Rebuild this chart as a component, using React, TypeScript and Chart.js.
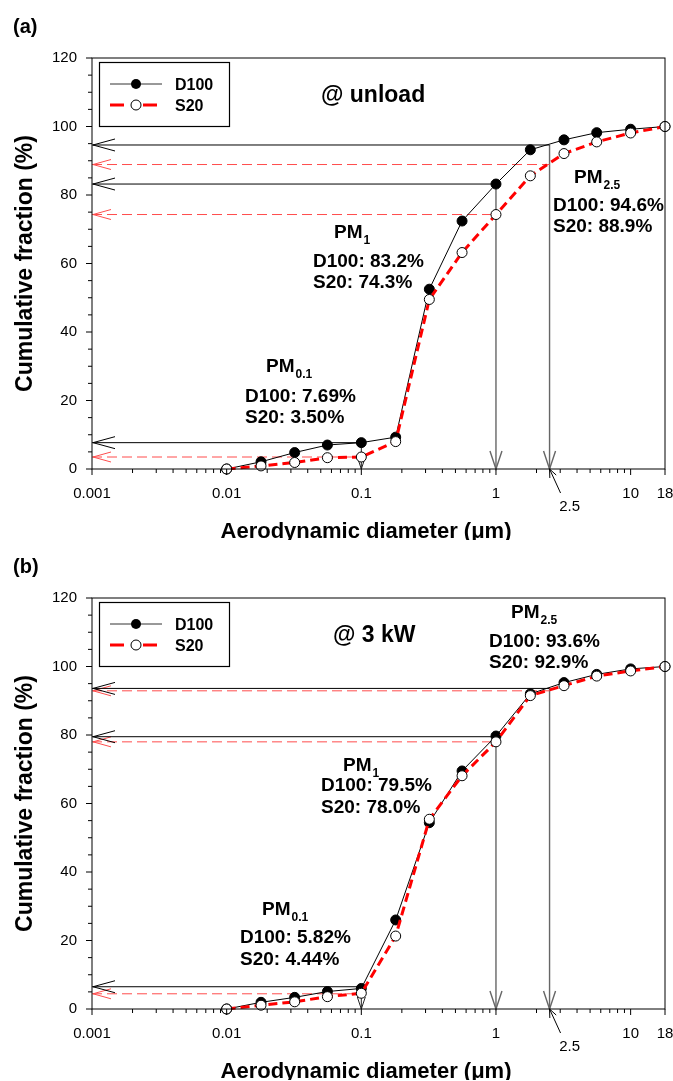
import React, { useEffect, useRef } from 'react';
import { Chart, registerables } from 'chart.js';
Chart.register(...registerables);

// ---------- data ----------
const sizes = [0.01, 0.018, 0.032, 0.056, 0.1, 0.18, 0.32, 0.56, 1.0, 1.8, 3.2, 5.6, 10, 18];
const xTickValues = [0.001, 0.01, 0.1, 1, 10, 18];
const yMin = 0;
const yMax = 120;
const yStep = 20;

const unloadD100 = [0, 2.1, 4.8, 7.0, 7.7, 9.3, 52.5, 72.4, 83.2, 93.2, 96.1, 98.2, 99.2, 100];
const unloadS20 = [0, 0.9, 1.9, 3.3, 3.5, 8.0, 49.5, 63.2, 74.3, 85.6, 92.1, 95.5, 98.1, 100];
const kw3D100 = [0, 1.95, 3.4, 5.1, 6.0, 26.0, 54.4, 69.5, 79.7, 92.0, 95.3, 97.7, 99.3, 100];
const kw3S20 = [0, 1.1, 2.1, 3.6, 4.6, 21.3, 55.4, 68.1, 78.0, 91.5, 94.4, 97.2, 98.7, 100];

// PM cut sizes (µm) and cumulative levels
const pmCuts = [0.1, 1, 2.5];
const pmSubs = ['0.1', '1', '2.5'];
const unloadPmD100 = [7.69, 83.2, 94.6];
const unloadPmS20 = [3.5, 74.3, 88.9];
const kw3PmD100 = [6.5, 79.5, 93.6];
const kw3PmS20 = [4.44, 78.0, 92.9];
const unloadTextD100 = ['7.69%', '83.2%', '94.6%'];
const unloadTextS20 = ['3.50%', '74.3%', '88.9%'];
const kw3TextD100 = ['5.82%', '79.5%', '93.6%'];
const kw3TextS20 = ['4.44%', '78.0%', '92.9%'];

const FONT = '"Liberation Sans", Arial, Helvetica, sans-serif';
const W = 673;
const H = 540;
const AREA_TOP = 58;
const AREA_BOTTOM = 469;

type Panel = {
  tag: string;
  title: string;
  d100: number[];
  s20: number[];
  pmD100: number[];
  pmS20: number[];
  txtD100: string[];
  txtS20: string[];
  titlePos: [number, number];
  // per block: [pmX, lineX, pmBase, l1Base, l2Base] offsets from chart area left/top
  blocks: number[][];
};

const panels: Panel[] = [
  {
    tag: '(a)', title: '@ unload', d100: unloadD100, s20: unloadS20,
    pmD100: unloadPmD100, pmS20: unloadPmS20, txtD100: unloadTextD100, txtS20: unloadTextS20,
    titlePos: [229, 44],
    blocks: [[174, 153, 314, 344, 365], [242, 221, 180, 209, 230], [482, 461, 125, 153, 174]],
  },
  {
    tag: '(b)', title: '@ 3 kW', d100: kw3D100, s20: kw3S20,
    pmD100: kw3PmD100, pmS20: kw3PmS20, txtD100: kw3TextD100, txtS20: kw3TextS20,
    titlePos: [241, 44],
    blocks: [[170, 148, 317, 345, 367], [251, 229, 173, 193, 215], [419, 397, 20, 49, 70]],
  },
];

function seg(ctx: CanvasRenderingContext2D, x1: number, y1: number, x2: number, y2: number) {
  ctx.beginPath();
  ctx.moveTo(x1, y1);
  ctx.lineTo(x2, y2);
  ctx.stroke();
}

function leftArrow(ctx: CanvasRenderingContext2D, x: number, y: number, len: number, half: number) {
  ctx.beginPath();
  ctx.moveTo(x + len, y - half);
  ctx.lineTo(x, y);
  ctx.lineTo(x + len, y + half);
  ctx.stroke();
}

function downArrow(ctx: CanvasRenderingContext2D, x: number, y: number, len: number, half: number) {
  ctx.beginPath();
  ctx.moveTo(x - half, y - len);
  ctx.lineTo(x, y);
  ctx.lineTo(x + half, y - len);
  ctx.stroke();
}

function makePlugin(p: Panel) {
  return {
    id: 'pmAnnot',
    beforeDatasetsDraw(chart: any) {
      const ctx: CanvasRenderingContext2D = chart.ctx;
      const xs = chart.scales.x;
      const ys = chart.scales.y;
      const { left, bottom } = chart.chartArea;
      ctx.save();
      pmCuts.forEach((cut, i) => {
        const cx = xs.getPixelForValue(cut);
        const yd = ys.getPixelForValue(p.pmD100[i]);
        const yr = ys.getPixelForValue(p.pmS20[i]);
        // vertical grey line with arrow
        ctx.strokeStyle = i === 0 ? '#222' : '#666';
        ctx.lineWidth = i === 0 ? 1 : 1.4;
        ctx.setLineDash([]);
        seg(ctx, cx, yd, cx, bottom);
        if (i === 0) downArrow(ctx, cx, bottom, 12, 4);
        else downArrow(ctx, cx, bottom, 18, 6);
        // S20 dashed
        ctx.strokeStyle = '#ff4d4d';
        ctx.lineWidth = 1;
        ctx.setLineDash([10, 5]);
        seg(ctx, left, yr, cx, yr);
        ctx.setLineDash([]);
        leftArrow(ctx, left + 1, yr, 18, 5);
        // D100 solid
        ctx.strokeStyle = '#000';
        ctx.lineWidth = 1;
        seg(ctx, left, yd, cx, yd);
        leftArrow(ctx, left + 1, yd, 22, 6);
      });
      ctx.restore();
    },
    afterDraw(chart: any) {
      const ctx: CanvasRenderingContext2D = chart.ctx;
      const xs = chart.scales.x;
      const ys = chart.scales.y;
      const { left, right, top, bottom } = chart.chartArea;
      ctx.save();
      // frame
      ctx.strokeStyle = '#000';
      ctx.lineWidth = 1;
      ctx.setLineDash([]);
      ctx.strokeRect(left, top, right - left, bottom - top);
      // y ticks
      for (let v = yMin; v <= yMax; v += 5) {
        const py = ys.getPixelForValue(v);
        const len = v % yStep === 0 ? 6 : 4;
        seg(ctx, left - len, py, left, py);
      }
      // x ticks
      const minors: number[] = [];
      for (let k = -3; k <= 1; k++) {
        for (let m = 2; m <= 9; m++) {
          const v = m * Math.pow(10, k);
          if (v < 18) minors.push(v);
        }
      }
      minors.forEach((v) => {
        const px = xs.getPixelForValue(v);
        seg(ctx, px, bottom, px, bottom + 4);
      });
      xTickValues.forEach((v) => {
        const px = xs.getPixelForValue(v);
        seg(ctx, px, bottom, px, bottom + 6);
      });
      // 2.5 label + arrow
      const c25 = xs.getPixelForValue(2.5);
      ctx.fillStyle = '#000';
      ctx.font = `15px ${FONT}`;
      ctx.textAlign = 'center';
      ctx.textBaseline = 'alphabetic';
      ctx.fillText('2.5', c25 + 20, bottom + 42);
      ctx.lineWidth = 1;
      const ax = c25 + 11, ay = bottom + 24;
      seg(ctx, ax, ay, c25, bottom);
      const ang = Math.atan2(bottom - ay, c25 - ax);
      [0.4, -0.4].forEach((d) => {
        seg(ctx, c25, bottom, c25 - 9 * Math.cos(ang + d), bottom - 9 * Math.sin(ang + d));
      });

      // panel tag
      ctx.textAlign = 'left';
      ctx.font = `bold 20px ${FONT}`;
      ctx.fillText(p.tag, 13, 33);

      // axis titles
      ctx.font = `bold 22px ${FONT}`;
      ctx.textAlign = 'center';
      ctx.fillText('Aerodynamic diameter (\u03bcm)', 366, bottom + 69);
      ctx.save();
      ctx.font = `bold 23px ${FONT}`;
      ctx.translate(32, (top + bottom) / 2);
      ctx.rotate(-Math.PI / 2);
      ctx.fillText('Cumulative fraction (%)', 0, 0);
      ctx.restore();

      // title text
      ctx.textAlign = 'left';
      ctx.font = `bold 23px ${FONT}`;
      ctx.fillText(p.title, left + p.titlePos[0], top + p.titlePos[1]);

      // PM blocks
      p.blocks.forEach((b, i) => {
        const [pmX, lx, pmB, l1B, l2B] = b;
        ctx.font = `bold 19px ${FONT}`;
        ctx.fillText('PM', left + pmX, top + pmB);
        const w = ctx.measureText('PM').width;
        ctx.font = `bold 12px ${FONT}`;
        ctx.fillText(pmSubs[i], left + pmX + w + 1, top + pmB + 6);
        ctx.font = `bold 19px ${FONT}`;
        ctx.fillText(`D100: ${p.txtD100[i]}`, left + lx, top + l1B);
        ctx.fillText(`S20: ${p.txtS20[i]}`, left + lx, top + l2B);
      });

      // legend
      const lgx = left + 7, lgy = top + 4;
      ctx.fillStyle = '#fff';
      ctx.fillRect(lgx, lgy, 130, 64);
      ctx.strokeStyle = '#000';
      ctx.lineWidth = 1.2;
      ctx.strokeRect(lgx + 0.5, lgy + 0.5, 130, 64);
      const r1 = lgy + 22, r2 = lgy + 43;
      ctx.strokeStyle = '#333';
      ctx.lineWidth = 1;
      seg(ctx, lgx + 11, r1, lgx + 63, r1);
      ctx.fillStyle = '#000';
      ctx.beginPath();
      ctx.arc(lgx + 37, r1, 5, 0, Math.PI * 2);
      ctx.fill();
      ctx.strokeStyle = '#ff0000';
      ctx.lineWidth = 3;
      seg(ctx, lgx + 11, r2, lgx + 25, r2);
      seg(ctx, lgx + 44, r2, lgx + 58, r2);
      ctx.fillStyle = '#fff';
      ctx.strokeStyle = '#000';
      ctx.lineWidth = 1;
      ctx.beginPath();
      ctx.arc(lgx + 37, r2, 5, 0, Math.PI * 2);
      ctx.fill();
      ctx.stroke();
      ctx.fillStyle = '#000';
      ctx.font = `bold 16px ${FONT}`;
      ctx.textAlign = 'left';
      ctx.fillText('D100', lgx + 76, r1 + 6);
      ctx.fillText('S20', lgx + 76, r2 + 6);
      ctx.restore();
    },
  };
}

function PanelChart({ p }: { p: Panel }) {
  const ref = useRef<HTMLCanvasElement | null>(null);
  useEffect(() => {
    if (!ref.current) return;
    const chart = new Chart(ref.current, {
      type: 'line',
      data: {
        datasets: [
          {
            label: 'D100',
            data: sizes.map((s, i) => ({ x: s, y: p.d100[i] })),
            borderColor: '#000',
            borderWidth: 1,
            pointRadius: 5,
            pointBackgroundColor: '#000',
            pointBorderColor: '#000',
            pointBorderWidth: 1,
            tension: 0,
            clip: false,
            order: 2,
          },
          {
            label: 'S20',
            data: sizes.map((s, i) => ({ x: s, y: p.s20[i] })),
            borderColor: '#ff0000',
            borderWidth: 3,
            borderDash: [9, 5],
            pointRadius: 5,
            pointBackgroundColor: '#fff',
            pointBorderColor: '#000',
            pointBorderWidth: 1,
            tension: 0,
            clip: false,
            order: 1,
          },
        ],
      } as any,
      options: {
        animation: false,
        responsive: false,
        devicePixelRatio: 1,
        layout: { padding: { top: AREA_TOP, right: 8, left: 0, bottom: 0 } },
        plugins: { legend: { display: false }, tooltip: { enabled: false } },
        events: [],
        scales: {
          x: {
            type: 'logarithmic',
            min: 0.001,
            max: 18,
            grid: { display: false, drawTicks: false },
            border: { display: false },
            ticks: {
              autoSkip: false,
              maxRotation: 0,
              minRotation: 0,
              padding: 16,
              color: '#000',
              font: { family: FONT, size: 15 },
              callback: (v: any) => String(v),
            },
            afterBuildTicks: (s: any) => {
              s.ticks = xTickValues.map((v) => ({ value: v }));
            },
            afterFit: (s: any) => {
              s.height = H - AREA_BOTTOM;
              s.paddingLeft = 0;
              s.paddingRight = 0;
            },
          },
          y: {
            type: 'linear',
            min: yMin,
            max: yMax,
            grid: { display: false, drawTicks: false },
            border: { display: false },
            ticks: {
              stepSize: yStep,
              padding: 15,
              color: '#000',
              font: { family: FONT, size: 15 },
            },
            afterFit: (s: any) => {
              s.width = 92;
            },
          },
        },
      } as any,
      plugins: [makePlugin(p)],
    });
    return () => chart.destroy();
  }, [p]);
  return <canvas ref={ref} width={W} height={H} style={{ display: 'block', width: W, height: H }} />;
}

export default function App() {
  useEffect(() => {
    document.body.style.margin = '0';
    document.body.style.background = '#fff';
  }, []);
  return (
    <div style={{ width: W, background: '#fff' }}>
      {panels.map((p) => (
        <PanelChart key={p.tag} p={p} />
      ))}
    </div>
  );
}
